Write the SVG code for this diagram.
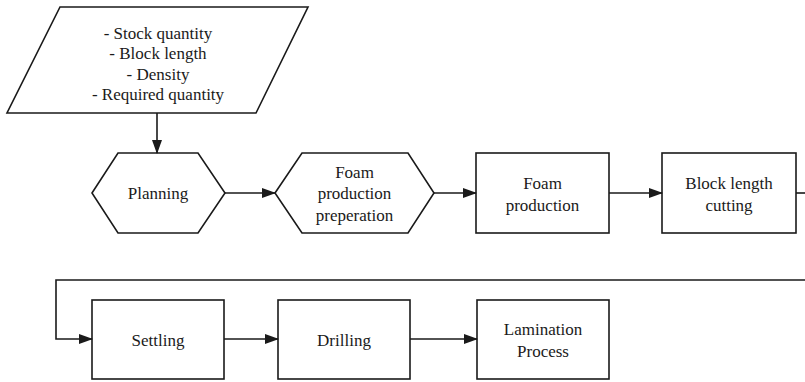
<svg xmlns="http://www.w3.org/2000/svg" width="805" height="382" viewBox="0 0 805 382">
<defs>
<marker id="ah" markerWidth="14" markerHeight="10" refX="13" refY="5" orient="auto" markerUnits="userSpaceOnUse">
<path d="M0,0 L14,5 L0,10 Z" fill="#1a1a1a"/>
</marker>
<style>
.s{fill:#fff;stroke:#1a1a1a;stroke-width:1.6}
.c{fill:none;stroke:#1a1a1a;stroke-width:1.6}
</style>
</defs>
<rect width="805" height="382" fill="#fff"/>
<g font-family="Liberation Serif, serif" font-size="17" fill="#1a1a1a" text-anchor="middle">
<g id="input">
<polygon class="s" points="60,7 308,7 256,113 7,113"/>
<text x="158" y="39">- Stock quantity</text>
<text x="158" y="59">- Block length</text>
<text x="158" y="80">- Density</text>
<text x="158" y="100">- Required quantity</text>
</g>
<g id="planning">
<polygon class="s" points="92,193 118,153 198,153 225,193 198,233 118,233"/>
<text x="158" y="199">Planning</text>
</g>
<g id="prep">
<polygon class="s" points="275,193 302,153 408,153 434,193 408,233 302,233"/>
<text x="354.5" y="178">Foam</text>
<text x="354.5" y="199">production</text>
<text x="354.5" y="221">preperation</text>
</g>
<g id="foam">
<rect class="s" x="476" y="153" width="133" height="80"/>
<text x="542.5" y="189">Foam</text>
<text x="542.5" y="211">production</text>
</g>
<g id="cutting">
<rect class="s" x="662" y="153" width="134" height="80"/>
<text x="729" y="189">Block length</text>
<text x="729" y="211">cutting</text>
</g>
<g id="settling">
<rect class="s" x="92" y="300" width="132" height="79"/>
<text x="158" y="346">Settling</text>
</g>
<g id="drilling">
<rect class="s" x="278" y="300" width="132" height="79"/>
<text x="344" y="346">Drilling</text>
</g>
<g id="lamination">
<rect class="s" x="477" y="300" width="132" height="79"/>
<text x="543" y="335">Lamination</text>
<text x="543" y="357">Process</text>
</g>
</g>
<g id="connectors">
<line class="c" x1="157" y1="113" x2="157" y2="153" marker-end="url(#ah)"/>
<line class="c" x1="225" y1="193" x2="275" y2="193" marker-end="url(#ah)"/>
<line class="c" x1="434" y1="193" x2="476" y2="193" marker-end="url(#ah)"/>
<line class="c" x1="609" y1="193" x2="662" y2="193" marker-end="url(#ah)"/>
<line class="c" x1="796" y1="193" x2="805" y2="193"/>
<polyline class="c" points="805,280 56,280 56,339 92,339" marker-end="url(#ah)"/>
<line class="c" x1="224" y1="339" x2="278" y2="339" marker-end="url(#ah)"/>
<line class="c" x1="410" y1="339" x2="477" y2="339" marker-end="url(#ah)"/>
</g>
</svg>
